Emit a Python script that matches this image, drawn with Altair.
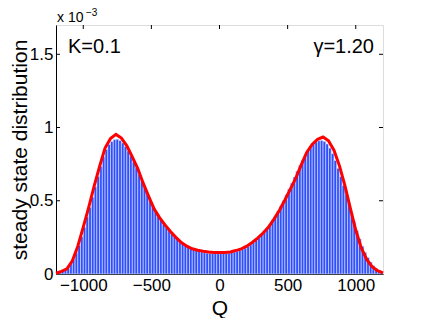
import altair as alt
import pandas as pd

# ---- data ----
bin_width = 20
bar_centers = list(range(-1190, 1200, 20))
bar_values = [  # units of 1e-3
    0.004, 0.010, 0.018, 0.030, 0.045, 0.070, 0.100, 0.145, 0.195, 0.255,
    0.320, 0.390, 0.455, 0.525, 0.595, 0.665, 0.735, 0.800, 0.850, 0.885,
    0.905, 0.918, 0.920, 0.912, 0.895, 0.870, 0.840, 0.805, 0.765, 0.725,
    0.680, 0.635, 0.590, 0.545, 0.505, 0.465, 0.430, 0.398, 0.368, 0.342,
    0.318, 0.296, 0.276, 0.257, 0.240, 0.224, 0.210, 0.198, 0.187, 0.177,
    0.168, 0.161, 0.155, 0.150, 0.146, 0.143, 0.141, 0.140, 0.139, 0.139,
    0.139, 0.140, 0.141, 0.143, 0.146, 0.150, 0.155, 0.161, 0.168, 0.177,
    0.188, 0.200, 0.214, 0.230, 0.248, 0.268, 0.290, 0.313, 0.338, 0.365,
    0.395, 0.428, 0.463, 0.500, 0.540, 0.580, 0.620, 0.662, 0.702, 0.742,
    0.778, 0.812, 0.842, 0.868, 0.888, 0.902, 0.910, 0.912, 0.905, 0.888,
    0.860, 0.822, 0.775, 0.722, 0.665, 0.605, 0.545, 0.480, 0.415, 0.355,
    0.295, 0.240, 0.190, 0.148, 0.112, 0.082, 0.058, 0.038, 0.022, 0.010,
]
curve_q = list(range(-1200, 1201, 40))
curve_p = [  # units of 1e-3
    0.005, 0.018, 0.035, 0.090, 0.190, 0.320, 0.455, 0.600, 0.735, 0.860,
    0.925, 0.953, 0.928, 0.875, 0.800, 0.720, 0.620, 0.530, 0.445, 0.385,
    0.335, 0.290, 0.250, 0.215, 0.190, 0.172, 0.162, 0.155, 0.150, 0.147,
    0.146, 0.147, 0.150, 0.160, 0.172, 0.190, 0.215, 0.245, 0.280, 0.320,
    0.375, 0.435, 0.505, 0.580, 0.655, 0.745, 0.830, 0.885, 0.920, 0.935,
    0.910, 0.845, 0.740, 0.605, 0.450, 0.300, 0.180, 0.100, 0.050, 0.022,
    0.008,
]
x_ticks = [-1000, -500, 0, 500, 1000]
y_ticks = [0, 0.5, 1, 1.5]

W, H = 327, 249
FONT = "Liberation Sans"

bars = pd.DataFrame({
    "Q": [c - bin_width / 2 for c in bar_centers],
    "Q2": [c + bin_width / 2 for c in bar_centers],
    "P": bar_values,
})
curve = pd.DataFrame({"Q": curve_q, "P": curve_p})
xt = pd.DataFrame({"Q": x_ticks})
yt = pd.DataFrame({"P": y_ticks})

xscale = alt.Scale(domain=[-1200, 1200], nice=False, zero=False)
yscale = alt.Scale(domain=[0, 1.7], nice=False)
xaxis = alt.Axis(values=x_ticks, title="Q", grid=False, tickSize=0, format="d",
                 labelPadding=3, labelFontSize=17, labelFont=FONT, labelColor="black",
                 titleFontSize=21, titleFont=FONT, titleFontWeight="normal",
                 titleBaseline="alphabetic", titleY=40, titleColor="black",
                 domainColor="black")
yaxis = alt.Axis(values=y_ticks, title="steady state distribution", grid=False,
                 tickSize=0, labelPadding=3, format=".1~f", labelFontSize=17,
                 labelFont=FONT, labelColor="black",
                 titleFontSize=21, titleFont=FONT, titleFontWeight="normal",
                 titleBaseline="alphabetic", titleX=-30, titleY=H / 2,
                 titleColor="black", domainColor="black")

X = lambda: alt.X("Q:Q", scale=xscale, axis=xaxis)
Y = lambda: alt.Y("P:Q", scale=yscale, axis=yaxis)

tick_len = 4
top_ticks = alt.Chart(xt).mark_rule(color="black", strokeWidth=1).encode(
    x=X(), y=alt.value(0), y2=alt.value(tick_len))
bot_ticks = alt.Chart(xt).mark_rule(color="black", strokeWidth=1).encode(
    x=X(), y=alt.value(H), y2=alt.value(H - tick_len))
left_ticks = alt.Chart(yt).mark_rule(color="black", strokeWidth=1).encode(
    y=Y(), x=alt.value(0), x2=alt.value(tick_len))
right_ticks = alt.Chart(yt).mark_rule(color="black", strokeWidth=1).encode(
    y=Y(), x=alt.value(W), x2=alt.value(W - tick_len))

bar_layer = alt.Chart(bars).mark_rect(
    color="#2f4ffd", stroke="#dfe4ff", strokeWidth=0.6
).encode(x=X(), x2="Q2:Q", y=Y(), y2=alt.datum(0))

line_layer = alt.Chart(curve).mark_line(color="#ff0000", strokeWidth=3).encode(
    x=X(), y=Y())

def label(txt, x, y, size, align="left"):
    return alt.Chart(pd.DataFrame({"t": [txt]})).mark_text(
        font=FONT, fontSize=size, align=align, baseline="alphabetic", color="black"
    ).encode(text="t:N", x=alt.value(x), y=alt.value(y))

texts = [
    label("x 10", 1, -3, 14),
    label("\u22123", 30, -9, 10),
    label("K=0.1", 12, 28, 20),
    label("\u03b3=1.20", 318, 28, 20, align="right"),
]

chart = alt.layer(top_ticks, bot_ticks, left_ticks, right_ticks, bar_layer,
                  line_layer, *texts).properties(
    width=W, height=H,
    autosize=alt.AutoSizeParams(type="none"),
    padding={"left": 48, "top": 17, "right": 32, "bottom": 44},
).configure_view(stroke="black", strokeWidth=1).configure(background="white")

chart.save("out.html", embed_options={"renderer": "svg", "actions": False})
